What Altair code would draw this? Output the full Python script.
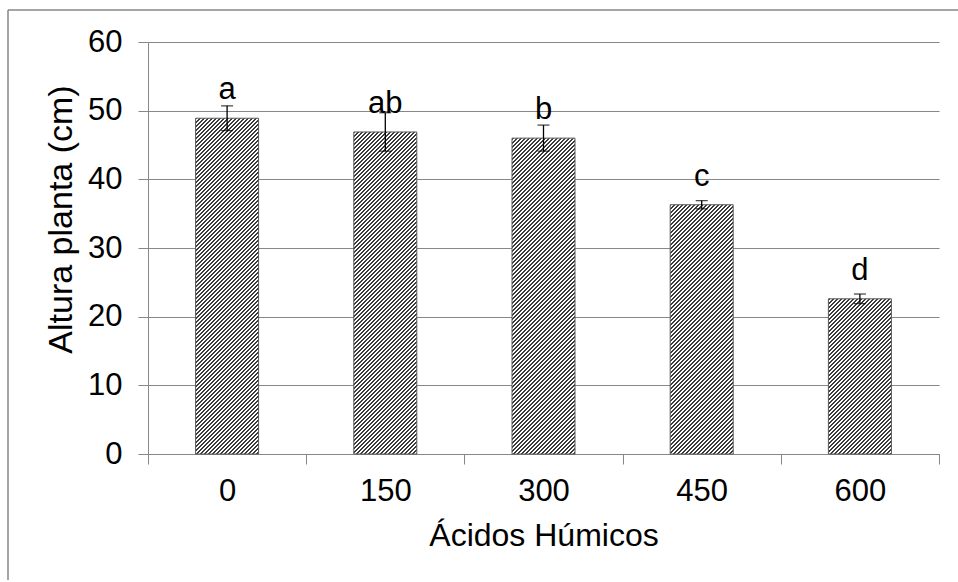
import altair as alt
import pandas as pd

# Plant height (cm) by humic acid dose, with error and significance letters
doses = ["0", "150", "300", "450", "600"]
heights = [48.9, 46.9, 46.0, 36.3, 22.6]
errors = [1.8, 2.8, 1.9, 0.6, 0.7]
letters = ["a", "ab", "b", "c", "d"]

df = pd.DataFrame({"dose": doses, "height": heights, "err": errors, "letter": letters})
df["lo"] = df["height"] - df["err"]
df["hi"] = df["height"] + df["err"]

PLOT_W, PLOT_H = 791, 412
PAD = {"left": 148, "top": 42, "right": 19, "bottom": 126}
Y_MAX = 60
BAR_W = 63
FONT = "Liberation Sans, Arial"
GRAY = "#878787"


def hatch_fill(w, h, period=4.0, dark=0.5, ink="#3a3a3a", paper="#ffffff"):
    """Linear gradient drawing '/' hatching at 45 degrees inside a w x h box."""
    c = (w + h) / (w * w + h * h)
    n = (w + h) / period
    stops = []
    k = 0
    while k / n < 1:
        for a, b, col in ((k / n, (k + dark) / n, ink), ((k + dark) / n, (k + 1) / n, paper)):
            a, b = min(a, 1.0), min(b, 1.0)
            if b > a:
                stops.append({"offset": a, "color": col})
                stops.append({"offset": b, "color": col})
        k += 1
    return {"gradient": "linear", "x1": 0, "y1": 0, "x2": c * w, "y2": c * h, "stops": stops}


x_enc = alt.X(
    "dose:N",
    sort=doses,
    scale=alt.Scale(paddingInner=0, paddingOuter=0),
    axis=alt.Axis(
        title="Ácidos Húmicos",
        labelAngle=0,
        tickBand="extent",
        tickSize=10,
        tickColor=GRAY,
        domainColor=GRAY,
        labelFontSize=31,
        labelFont=FONT,
        labelColor="#000000",
        labelPadding=12,
        titleFontSize=32,
        titleFont=FONT,
        titleFontWeight="normal",
        titleColor="#000000",
        titleBaseline="alphabetic",
        titleY=91,
        grid=False,
    ),
)

y_axis = alt.Axis(
    title="Altura planta (cm)",
    values=[0, 10, 20, 30, 40, 50, 60],
    grid=True,
    gridColor=GRAY,
    domainColor=GRAY,
    tickColor=GRAY,
    tickSize=10,
    labelFontSize=31,
    labelFont=FONT,
    labelColor="#000000",
    labelPadding=16,
    titleFontSize=34,
    titleFont=FONT,
    titleFontWeight="normal",
    titleColor="#000000",
    titleBaseline="alphabetic",
    titleAlign="center",
    titleX=-77,
    titleY=177,
)
y_scale = alt.Scale(domain=[0, Y_MAX], nice=False)


def y_of(field):
    return alt.Y(f"{field}:Q", scale=y_scale, axis=y_axis)


base = alt.Chart(df)

# one bar layer per dose so each gets a hatch sized to its own box
bar_layers = []
for d, v in zip(doses, heights):
    h_px = v / Y_MAX * PLOT_H
    bar_layers.append(
        base.transform_filter(alt.datum.dose == d)
        .mark_bar(width=BAR_W, fill=hatch_fill(BAR_W, h_px), stroke="#5a5a5a", strokeWidth=1)
        .encode(x=x_enc, y=y_of("height"))
    )

err_rule = base.mark_rule(color="#000000", strokeWidth=1.3).encode(
    x=x_enc, y=y_of("lo"), y2="hi:Q"
)
cap_lo = base.mark_tick(color="#000000", size=12, thickness=1.3, orient="horizontal").encode(
    x=x_enc, y=y_of("lo")
)
cap_hi = base.mark_tick(color="#000000", size=12, thickness=1.3, orient="horizontal").encode(
    x=x_enc, y=y_of("hi")
)
labels = base.mark_text(
    dy=-19, baseline="alphabetic", fontSize=31, font=FONT, color="#000000"
).encode(x=x_enc, y=y_of("height"), text="letter:N")

# outer frame: its top and left edges run to the figure's right and bottom edges
right_edge = PLOT_W + PAD["right"]
bottom_edge = PLOT_H + PAD["bottom"]
one = alt.Chart(pd.DataFrame({"k": [0]}))
frame_top = one.mark_rule(color=GRAY, strokeWidth=1.5).encode(
    x=alt.value(-140), x2=alt.value(right_edge), y=alt.value(-32)
)
frame_left = one.mark_rule(color=GRAY, strokeWidth=1.5).encode(
    x=alt.value(-140), y=alt.value(-32), y2=alt.value(bottom_edge)
)

chart = (
    alt.layer(frame_top, frame_left, *bar_layers, err_rule, cap_lo, cap_hi, labels)
    .properties(
        width=PLOT_W,
        height=PLOT_H,
        autosize=alt.AutoSizeParams(type="none"),
        padding=PAD,
        background="#ffffff",
    )
    .configure_view(stroke=None)
)

chart.save("out.html", embed_options={"renderer": "svg", "actions": False})
